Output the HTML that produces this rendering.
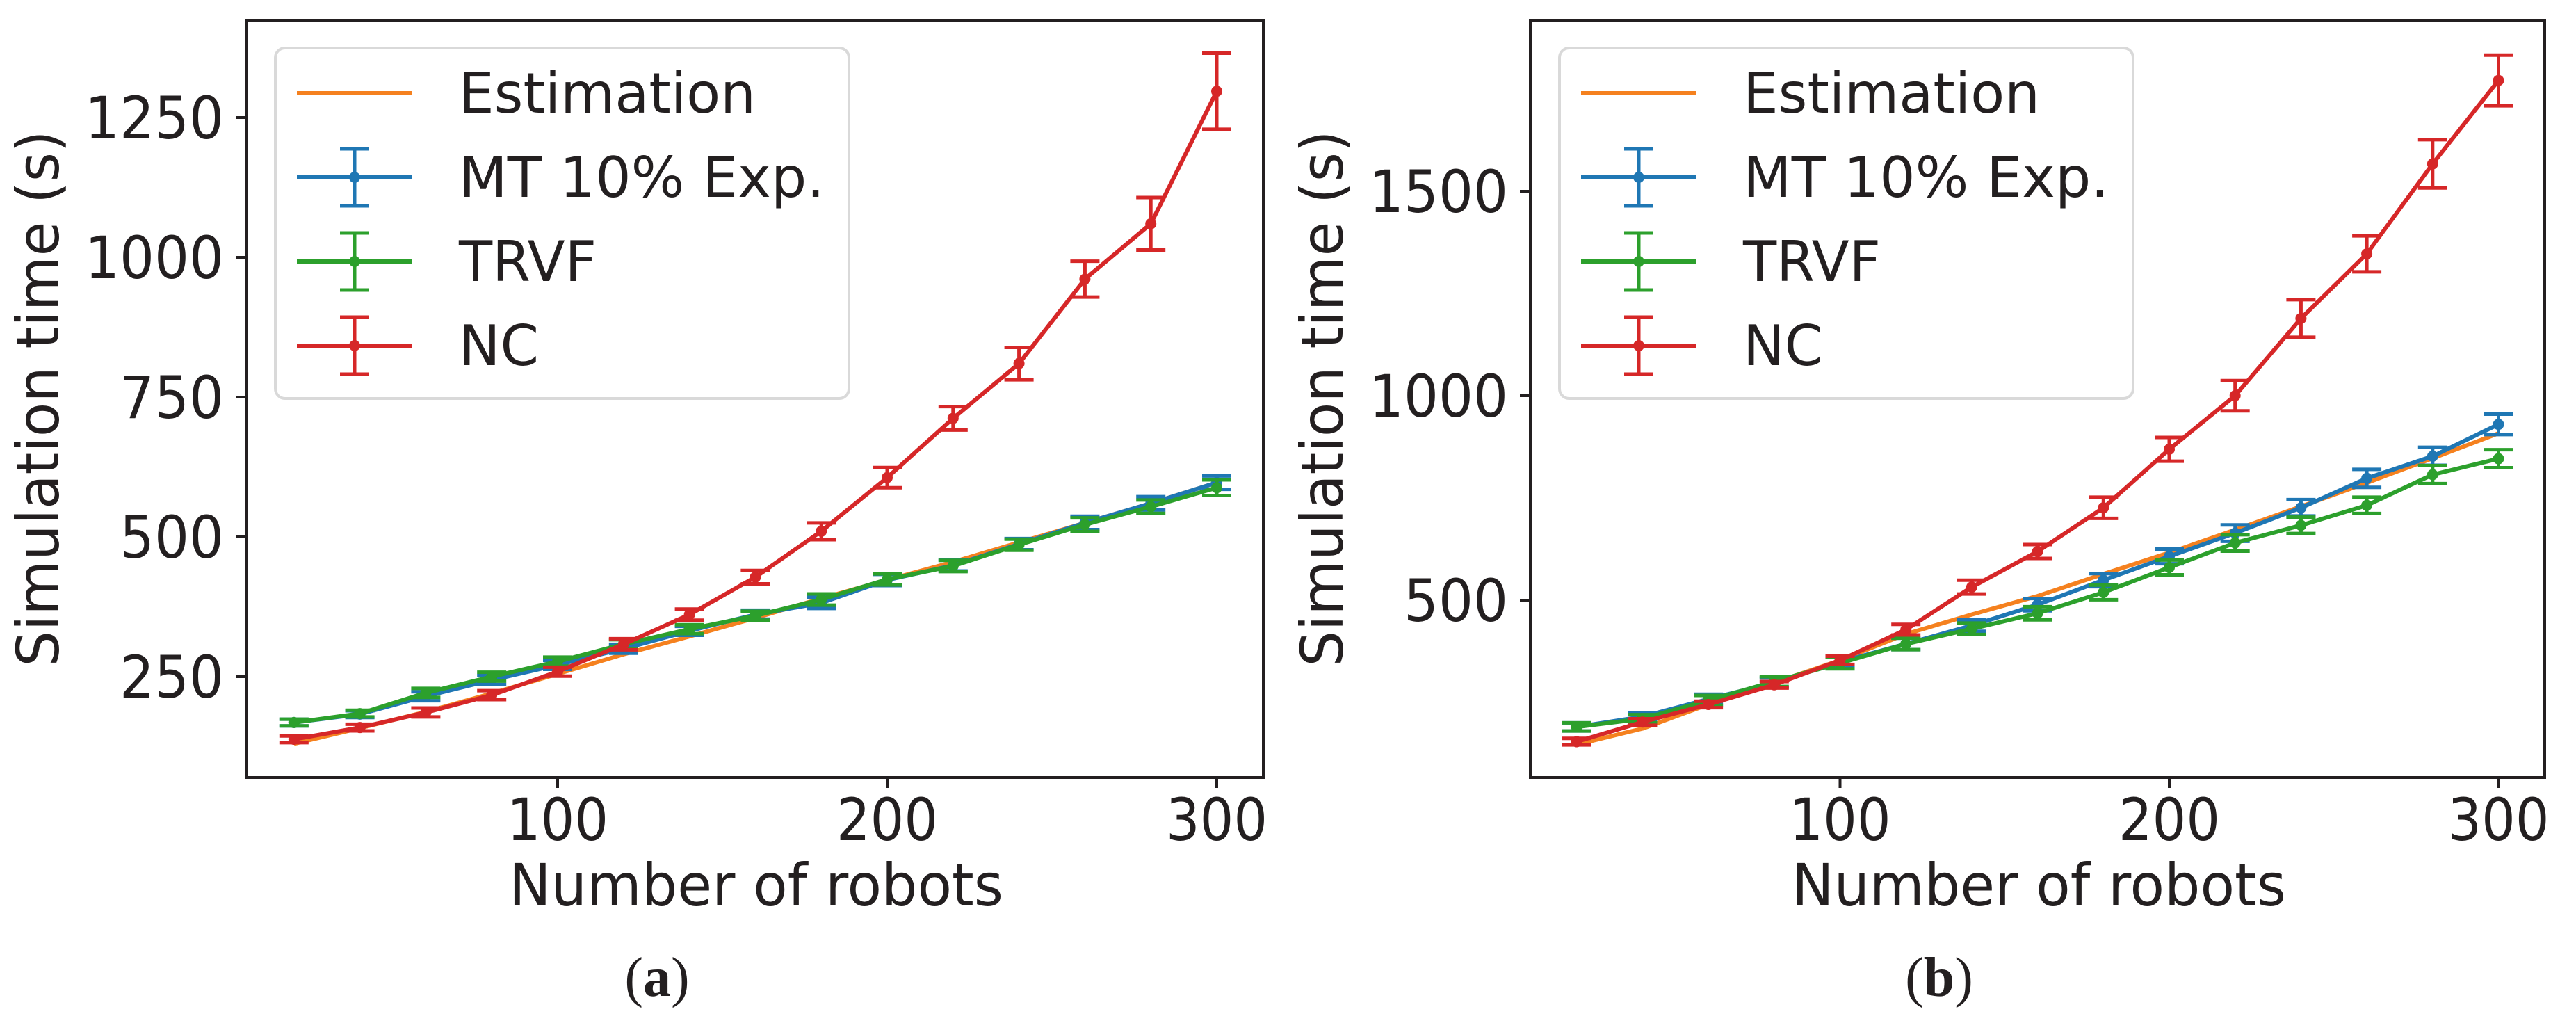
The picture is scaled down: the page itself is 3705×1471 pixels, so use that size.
<!DOCTYPE html>
<html><head><meta charset="utf-8"><style>
html,body{margin:0;padding:0;background:#fff;}
svg{display:block;}
text{font-family:"DejaVu Sans","Liberation Sans",sans-serif;fill:#231f20;}
text.cap{font-family:"Liberation Serif",serif;}
</style></head><body>
<svg id="chart" width="3705" height="1471" viewBox="0 0 3705 1471" xmlns="http://www.w3.org/2000/svg"></svg>
<script>
const xCats = [20,40,60,80,100,120,140,160,180,200,220,240,260,280,300];
// Panel (a)
const estA = [130,158,187,220,255,290,322,355,390,423,455,490,525,560,597];
const mtA  = [168,183,215,244,271,300,332,361,382,423,449,487,525,560,597];
const mtAErr = [6,6,8,8,8,8,8,8,10,10,10,10,12,12,12];
const trA  = [168,184,221,250,277,308,335,359,388,424,448,486,522,554,588];
const trAErr = [6,6,8,8,8,8,8,8,10,10,10,10,12,12,14];
const ncA  = [138,159,186,217,259,308,361,428,510,606,712,810,961,1060,1297];
const ncAErr = [6,6,8,8,8,10,10,12,15,18,21,29,32,47,68];
const yTicksA = [250,500,750,1000,1250];
// Panel (b)
const estB = [147,186,245,298,353,417,465,510,564,616,672,729,787,847,908];
const mtB  = [190,215,258,298,349,393,438,489,549,607,664,726,798,852,930];
const mtBErr = [10,10,12,12,12,14,14,15,16,18,20,20,22,22,25];
const trB  = [190,210,255,301,346,393,430,468,519,580,640,683,732,807,846];
const trBErr = [10,10,12,12,14,14,14,16,18,18,20,20,20,22,22];
const ncB  = [154,202,245,293,353,428,532,619,726,869,1000,1189,1347,1567,1771];
const ncBErr = [8,8,8,8,10,13,17,17,26,29,37,46,44,59,62];
const yTicksB = [500,1000,1500];
const xTicks = [100,200,300];
const seriesNames = ["Estimation","MT 10% Exp.","TRVF","NC"];
const colors = {est:"#f5811f",mt:"#1f77b4",tr:"#2ca02c",nc:"#d62728"};

const svg = document.getElementById('chart');
const NS = "http://www.w3.org/2000/svg";
function mk(tag, attrs, parent){
  const e = document.createElementNS(NS, tag);
  for (const k in attrs) e.setAttribute(k, attrs[k]);
  (parent||svg).appendChild(e);
  return e;
}

function panel(cfg){
  const g = mk('g',{});
  
  
  const X = v => cfg.x0 + v*cfg.xs;
  const Y = v => cfg.y0 - (v - cfg.yRef)*cfg.ys;
  const series = [
    {key:'nc', vals:cfg.nc, err:cfg.ncErr},
    {key:'tr', vals:cfg.tr, err:cfg.trErr},
    {key:'mt', vals:cfg.mt, err:cfg.mtErr},
    {key:'est', vals:cfg.est, err:null}
  ];
  const order = ['est','mt','tr','nc'];
  order.forEach(k=>{
    const s = series.find(q=>q.key===k);
    const sg = mk('g',{},g);
    
    
    if (s.err){
      xCats.forEach((xv,i)=>{
        const cx = X(xv), top = Y(s.vals[i]+s.err[i]), bot = Y(s.vals[i]-s.err[i]);
        const eb = mk('path',{d:`M${cx},${top}V${bot}M${cx-21},${top}H${cx+21}M${cx-21},${bot}H${cx+21}`,stroke:colors[k],'stroke-width':5,fill:'none'},sg);
        
        
      });
    }
    const pts = xCats.map((xv,i)=>X(xv)+','+Y(s.vals[i])).join(' ');
    const pl = mk('polyline',{points:pts,fill:'none',stroke:colors[k],'stroke-width':6,'stroke-linejoin':'round'},sg);
    
    
    if (s.err){
      xCats.forEach((xv,i)=>{
        const c = mk('circle',{cx:X(xv),cy:Y(s.vals[i]),r:8,fill:colors[k]},sg);
        
        
      });
    }
  });
  const fr = mk('rect',{x:cfg.left,y:30,width:cfg.right-cfg.left,height:1118-30,fill:'none',stroke:'#231f20','stroke-width':4},g);
  
  
  xTicks.forEach(t=>{
    const x = X(t);
    mk('line',{x1:x,y1:1118,x2:x,y2:1133,stroke:'#231f20','stroke-width':4},g);
    const tx = mk('text',{x:x,y:1208,'font-size':84,'text-anchor':'middle',textLength:146,lengthAdjust:'spacingAndGlyphs'},g);
    tx.textContent = t;
    
    
  });
  cfg.yTicks.forEach(t=>{
    const y = Y(t);
    mk('line',{x1:cfg.left-15,y1:y,x2:cfg.left,y2:y,stroke:'#231f20','stroke-width':4},g);
    const s = String(t);
    const ty = mk('text',{x:cfg.left-32,y:y+30,'font-size':84,'text-anchor':'end',textLength:s.length*50,lengthAdjust:'spacingAndGlyphs'},g);
    ty.textContent = s;
    
    
  });
  const xt = mk('text',{x:(cfg.left+cfg.right)/2+2,y:1302,'font-size':84,'text-anchor':'middle',textLength:711,lengthAdjust:'spacingAndGlyphs'},g);
  xt.textContent = 'Number of robots';
  
  
  const yx = cfg.left - 270;
  const yt = mk('text',{x:0,y:0,'font-size':84,'text-anchor':'middle',textLength:771,lengthAdjust:'spacingAndGlyphs',transform:`translate(${yx},573) rotate(-90)`},g);
  yt.textContent = 'Simulation time (s)';
  
  
  const lg = mk('g',{},g);
  
  
  const lx = cfg.left + 42;
  mk('rect',{x:lx,y:69,width:825,height:504,rx:14,fill:'#fff',stroke:'#d9d9d9','stroke-width':4},lg);
  const keys = ['est','mt','tr','nc'];
  const widths = [427,526,198,115];
  keys.forEach((k,i)=>{
    const y = 134 + i*121;
    const eg = mk('g',{},lg);
    
    
    const a = lx+31, b = lx+197, c=(a+b)/2;
    mk('line',{x1:a,y1:y,x2:b,y2:y,stroke:colors[k],'stroke-width':6},eg);
    if (k!=='est'){
      mk('path',{d:`M${c},${y-41}V${y+41}M${c-21},${y-41}H${c+21}M${c-21},${y+41}H${c+21}`,stroke:colors[k],'stroke-width':5,fill:'none'},eg);
      mk('circle',{cx:c,cy:y,r:8,fill:colors[k]},eg);
    }
    const t = mk('text',{x:lx+264,y:y+28,'font-size':80,textLength:widths[i],lengthAdjust:'spacingAndGlyphs'},eg);
    t.textContent = seriesNames[i];
  });
  const cp = mk('text',{x:cfg.cap,y:1432,'font-size':80,'text-anchor':'middle','class':'cap'},g);
  cp.innerHTML = '(<tspan font-weight="bold">'+cfg.capLetter+'</tspan>)';
  
  
}

panel({name:'panel-a',left:354,right:1817,x0:328,xs:4.74,y0:973,yRef:250,ys:0.804,
  est:estA,mt:mtA,mtErr:mtAErr,tr:trA,trErr:trAErr,nc:ncA,ncErr:ncAErr,yTicks:yTicksA,cap:945,capLetter:'a'});
panel({name:'panel-b',left:2201,right:3660,x0:2173,xs:4.735,y0:863,yRef:500,ys:0.588,
  est:estB,mt:mtB,mtErr:mtBErr,tr:trB,trErr:trBErr,nc:ncB,ncErr:ncBErr,yTicks:yTicksB,cap:2789,capLetter:'b'});
</script>
</body></html>
